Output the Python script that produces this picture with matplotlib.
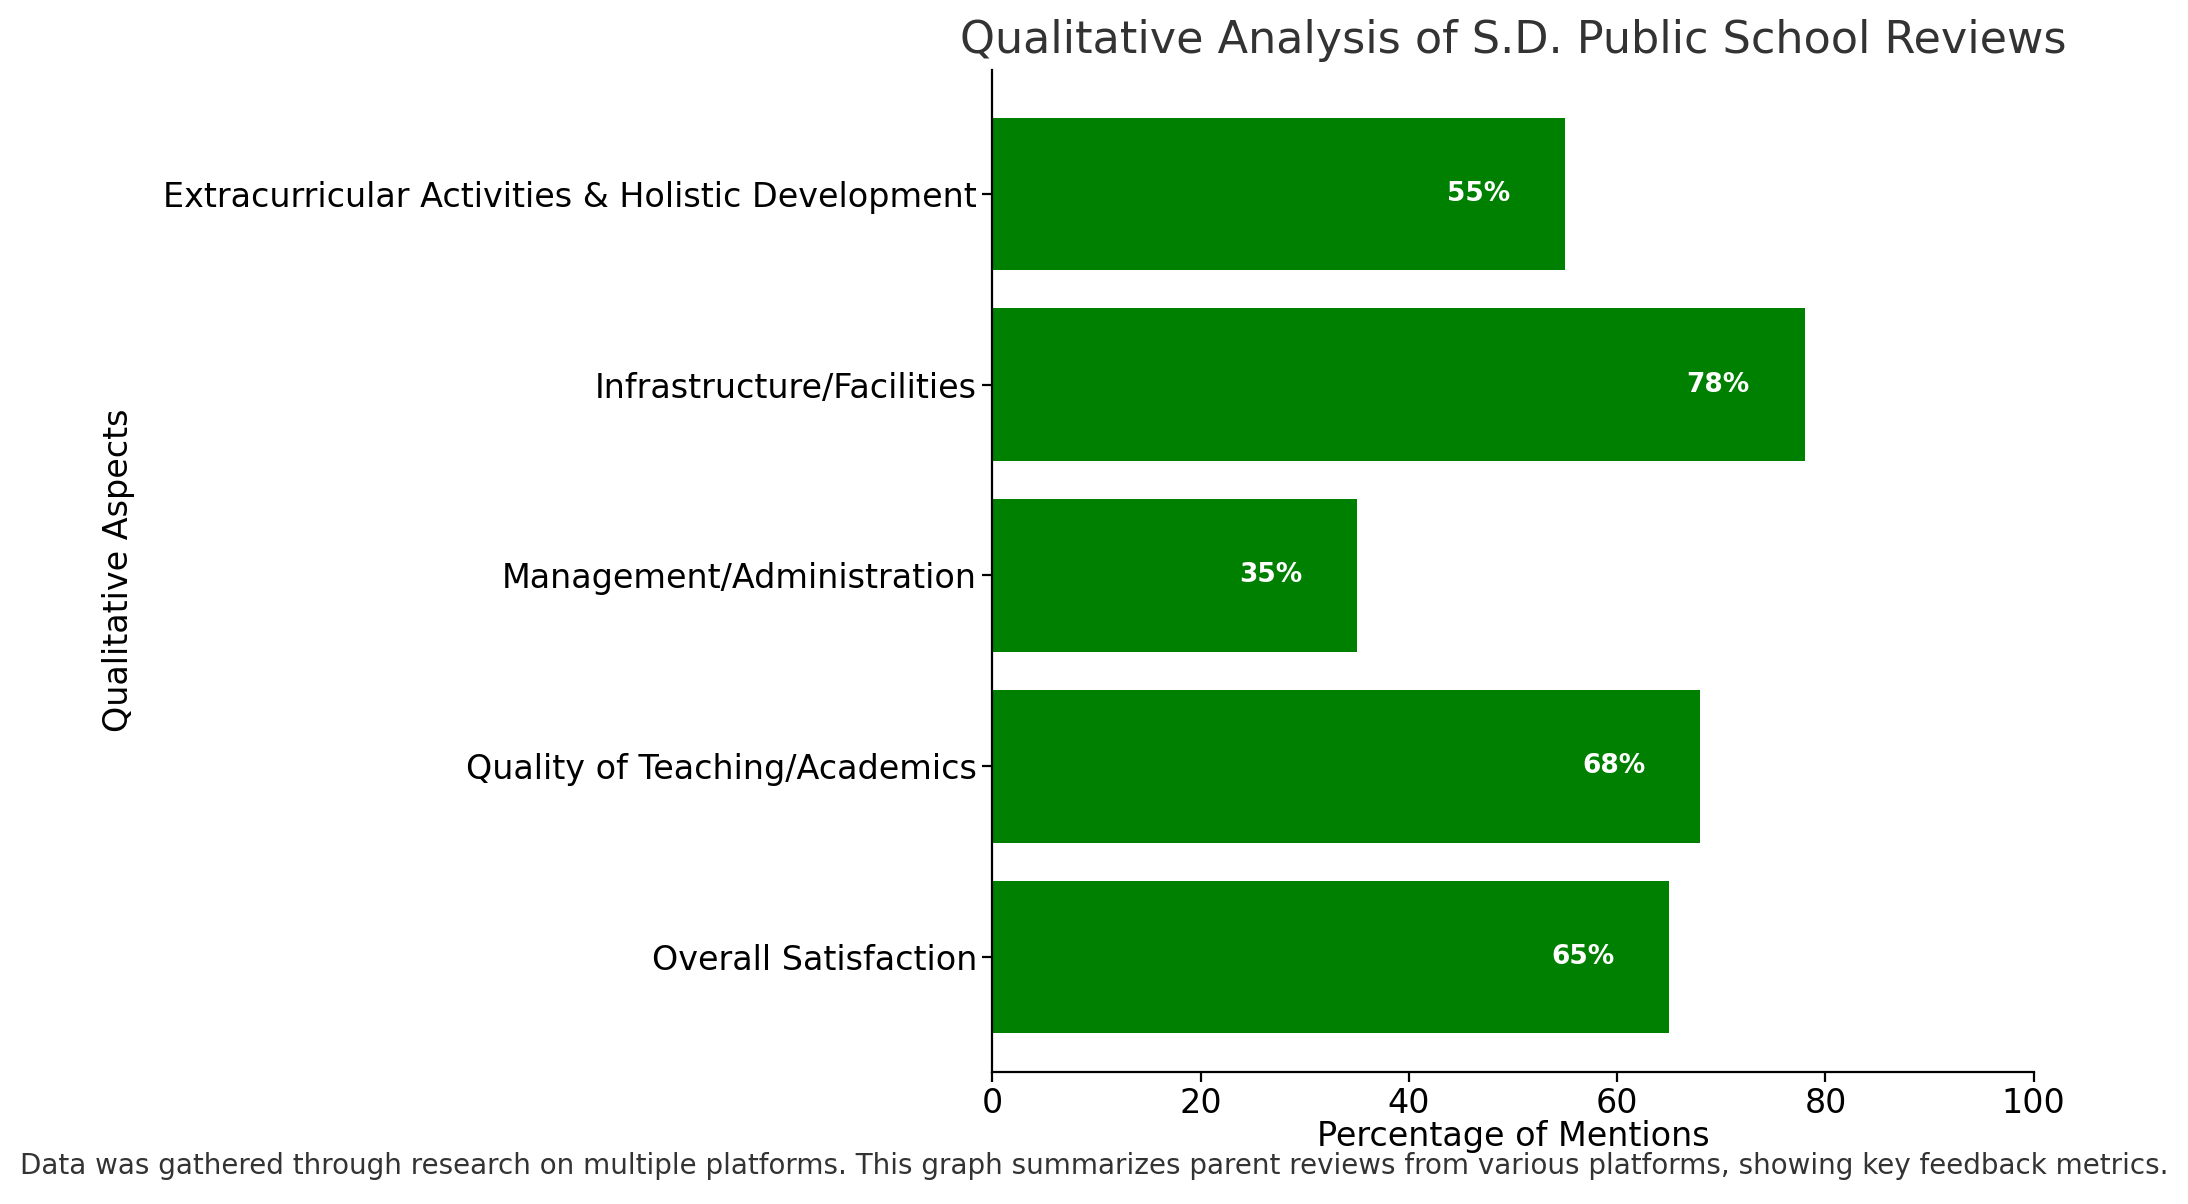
import matplotlib
matplotlib.use('Agg')
import matplotlib.pyplot as plt

# 数据
categories = ['Overall Satisfaction', 'Quality of Teaching/Academics',
              'Management/Administration', 'Infrastructure/Facilities',
              'Extracurricular Activities & Holistic Development']
values = [65, 68, 35, 78, 55]

fig = plt.figure(figsize=(10.94, 6.02), dpi=200)
ax = fig.add_axes([0.4535, 0.11, 0.476, 0.832])

bars = ax.barh(categories, values, color='green')
for bar, v in zip(bars, values):
    ax.text(v - 8.3, bar.get_y() + bar.get_height() / 2, f'{v}%',
            ha='center', va='center', color='white', fontweight='bold', fontsize=9.5)

ax.set_xlim(0, 100)
ax.set_ylim(-0.6, 4.65)
ax.spines['top'].set_visible(False)
ax.spines['right'].set_visible(False)
ax.tick_params(labelsize=12, pad=2)
ax.set_xlabel('Percentage of Mentions', fontsize=12, labelpad=0)
ax.set_ylabel('Qualitative Aspects', fontsize=12, labelpad=10)
ax.set_title('Qualitative Analysis of S.D. Public School Reviews', fontsize=16, color='#333333')

fig.text(0.5, 0.025, 'Data was gathered through research on multiple platforms. This graph summarizes '
         'parent reviews from various platforms, showing key feedback metrics.',
         ha='center', fontsize=10, color='#333333')

fig.savefig('out.png', dpi=200)
